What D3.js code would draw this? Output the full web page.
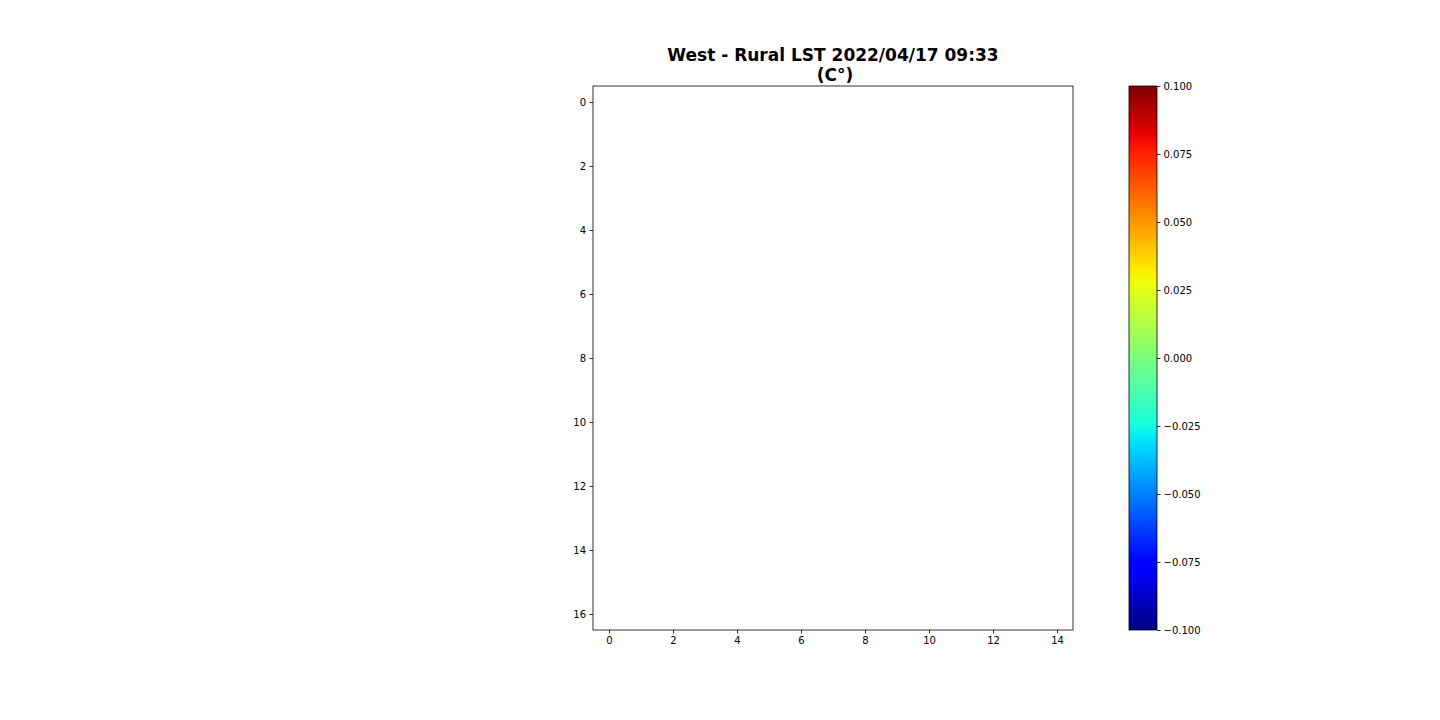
<!DOCTYPE html>
<html>
<head>
<meta charset="utf-8">
<script src="https://cdn.jsdelivr.net/npm/d3@7"></script>
<style>
html,body{margin:0;padding:0;background:#fff;}
svg text{font-family:"DejaVu Sans",sans-serif;}
</style>
</head>
<body>
<svg id="chart" width="1440" height="720"></svg>
<script>
const titleLines = ["West - Rural LST 2022/04/17 09:33", "(C°)"];
const nCols = 15;
const nRows = 17;
// LST grid: every cell is missing (NaN) in the reference
const lstValues = [
  [null,null,null,null,null,null,null,null,null,null,null,null,null,null,null],
  [null,null,null,null,null,null,null,null,null,null,null,null,null,null,null],
  [null,null,null,null,null,null,null,null,null,null,null,null,null,null,null],
  [null,null,null,null,null,null,null,null,null,null,null,null,null,null,null],
  [null,null,null,null,null,null,null,null,null,null,null,null,null,null,null],
  [null,null,null,null,null,null,null,null,null,null,null,null,null,null,null],
  [null,null,null,null,null,null,null,null,null,null,null,null,null,null,null],
  [null,null,null,null,null,null,null,null,null,null,null,null,null,null,null],
  [null,null,null,null,null,null,null,null,null,null,null,null,null,null,null],
  [null,null,null,null,null,null,null,null,null,null,null,null,null,null,null],
  [null,null,null,null,null,null,null,null,null,null,null,null,null,null,null],
  [null,null,null,null,null,null,null,null,null,null,null,null,null,null,null],
  [null,null,null,null,null,null,null,null,null,null,null,null,null,null,null],
  [null,null,null,null,null,null,null,null,null,null,null,null,null,null,null],
  [null,null,null,null,null,null,null,null,null,null,null,null,null,null,null],
  [null,null,null,null,null,null,null,null,null,null,null,null,null,null,null],
  [null,null,null,null,null,null,null,null,null,null,null,null,null,null,null]
];
const xTickValues = [0, 2, 4, 6, 8, 10, 12, 14];
const yTickValues = [0, 2, 4, 6, 8, 10, 12, 14, 16];
const colorDomain = [-0.1, 0.1];
const cbTickValues = [-0.1, -0.075, -0.05, -0.025, 0, 0.025, 0.05, 0.075, 0.1];

// matplotlib jet colormap
const jetSeg = {
  r: [[0,0],[0.35,0],[0.66,1],[0.89,1],[1,0.5]],
  g: [[0,0],[0.125,0],[0.375,1],[0.64,1],[0.91,0],[1,0]],
  b: [[0,0.5],[0.11,1],[0.34,1],[0.65,0],[1,0]]
};
function segVal(seg, t){
  for(let i=1;i<seg.length;i++){
    if(t<=seg[i][0]){
      const [x0,y0]=seg[i-1],[x1,y1]=seg[i];
      return y0+(y1-y0)*(t-x0)/(x1-x0);
    }
  }
  return seg[seg.length-1][1];
}
function jet(t){
  t=Math.max(0,Math.min(1,t));
  return d3.rgb(segVal(jetSeg.r,t)*255, segVal(jetSeg.g,t)*255, segVal(jetSeg.b,t)*255).formatHex();
}
const color = d3.scaleSequential(jet).domain(colorDomain);

const svg = d3.select("#chart");
const ax = {left:593, top:86, width:480, height:544};

const x = d3.scaleLinear().domain([-0.5, nCols-0.5]).range([ax.left, ax.left+ax.width]);
const y = d3.scaleLinear().domain([-0.5, nRows-0.5]).range([ax.top, ax.top+ax.height]);

// cells
const cells = [];
lstValues.forEach((row,r)=>row.forEach((v,c)=>cells.push({r,c,v})));
svg.append("g").selectAll("rect").data(cells.filter(d=>d.v!==null)).join("rect")
  .attr("x",d=>x(d.c-0.5)).attr("y",d=>y(d.r-0.5))
  .attr("width",x(1)-x(0)).attr("height",y(1)-y(0))
  .attr("fill",d=>color(d.v));

function styleAxis(g){
  g.selectAll(".domain").remove();
  g.selectAll(".tick line").attr("stroke","#000").attr("stroke-width",0.8);
  g.selectAll(".tick text").attr("font-size",10).attr("fill","#000").attr("font-family","DejaVu Sans, sans-serif");
}
const fmtMinus = s => s.replace("-", "\u2212");

svg.append("g").attr("transform",`translate(0,${ax.top+ax.height})`)
  .call(d3.axisBottom(x).tickValues(xTickValues).tickSize(3.5).tickPadding(3.5).tickFormat(d3.format("d")))
  .call(styleAxis);
svg.append("g").attr("transform",`translate(${ax.left},0)`)
  .call(d3.axisLeft(y).tickValues(yTickValues).tickSize(3.5).tickPadding(3.5).tickFormat(d3.format("d")))
  .call(styleAxis);

svg.append("rect").attr("x",ax.left).attr("y",ax.top).attr("width",ax.width).attr("height",ax.height)
  .attr("fill","none").attr("stroke","#000").attr("stroke-width",0.8);

// title
const tcx = ax.left+ax.width/2;
const title = svg.append("text").attr("x",tcx).attr("y",61)
  .attr("text-anchor","middle").attr("font-size",17).attr("font-weight","bold").attr("fill","#000");
titleLines.forEach((t,i)=>title.append("tspan").attr("x",tcx + (i===1?2:0)).attr("y",61+i*20).text(t));

// colorbar
const cb = {left:1129, top:86, width:28, height:544};
const cy = d3.scaleLinear().domain(colorDomain).range([cb.top+cb.height, cb.top]);
const grad = svg.append("defs").append("linearGradient").attr("id","jetgrad")
  .attr("x1",0).attr("y1",1).attr("x2",0).attr("y2",0);
d3.range(0,257).forEach(i=>{
  const t=i/256;
  grad.append("stop").attr("offset",t).attr("stop-color",jet(t));
});
svg.append("rect").attr("x",cb.left).attr("y",cb.top).attr("width",cb.width).attr("height",cb.height)
  .attr("fill","url(#jetgrad)").attr("stroke","#000").attr("stroke-width",0.8);
svg.append("g").attr("transform",`translate(${cb.left+cb.width},0)`)
  .call(d3.axisRight(cy).tickValues(cbTickValues).tickSize(3.5).tickPadding(3).tickFormat(d=>fmtMinus(d3.format(".3f")(d))))
  .call(styleAxis);
</script>
</body>
</html>
